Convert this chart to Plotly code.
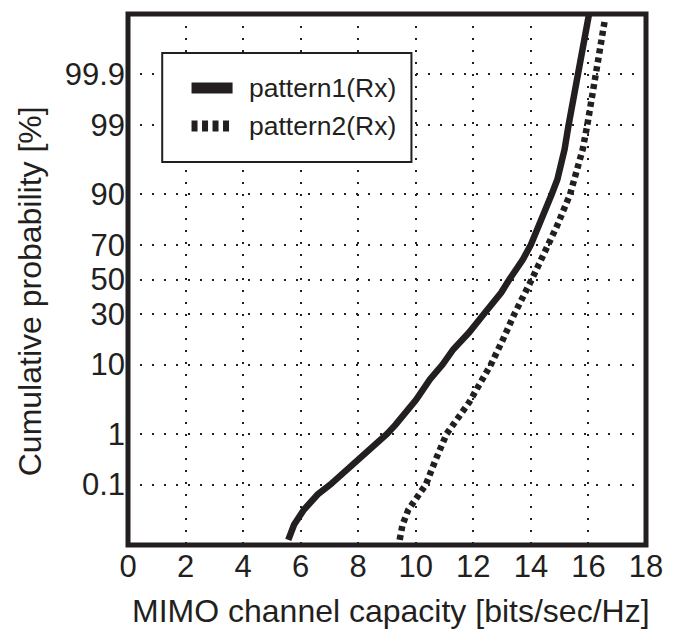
import plotly.graph_objects as go
from statistics import NormalDist

# ---- data ----
capacity_p1 = [5.57, 5.77, 6.11, 6.59, 7.03, 7.71, 8.21, 8.59, 9.00, 9.30, 10.01, 10.49,
               10.93, 11.30, 11.85, 12.36, 12.97, 13.25, 13.72, 14.00, 14.50, 14.72,
               14.92, 15.17, 15.31, 15.48, 15.65, 15.78, 16.02]
prob_p1 = [0.0044, 0.011, 0.026, 0.060, 0.1, 0.23, 0.42, 0.64, 1, 1.44, 3.5, 6.6,
           10, 14.6, 21.2, 30, 42.2, 50, 61.8, 70, 84.4, 90,
           93.4, 97.5, 99, 99.667, 99.9, 99.968, 99.9968]

capacity_p2 = [9.44, 9.54, 9.74, 10.05, 10.35, 10.69, 11.07, 11.85, 12.22, 12.61,
               13.03, 13.42, 14.03, 14.60, 14.90, 15.36, 15.64, 15.80, 15.96, 16.12,
               16.27, 16.41, 16.56]
prob_p2 = [0.0044, 0.011, 0.026, 0.054, 0.1, 0.33, 1, 3.19, 5.67, 10,
           18.3, 30, 50, 70, 78.8, 90, 95.6, 97.5, 99, 99.667,
           99.9, 99.973, 99.9949]

series_names = ["pattern1(Rx)", "pattern2(Rx)"]
prob_ticks = [0.1, 1, 10, 30, 50, 70, 90, 99, 99.9]
prob_tick_labels = ["0.1", "1", "10", "30", "50", "70", "90", "99", "99.9"]
x_ticks = [0, 2, 4, 6, 8, 10, 12, 14, 16, 18]

_nd = NormalDist()


def probit(p_percent):
    return _nd.inv_cdf(p_percent / 100.0)


INK = "#231f20"
FONT = "Liberation Sans, Arial, Helvetica, sans-serif"

fig = go.Figure()
fig.add_trace(go.Scatter(
    x=capacity_p1, y=[probit(p) for p in prob_p1], mode="lines",
    name=series_names[0], showlegend=False,
    line=dict(color=INK, width=6.5)))
fig.add_trace(go.Scatter(
    x=capacity_p2, y=[probit(p) for p in prob_p2], mode="lines",
    name=series_names[1], showlegend=False,
    line=dict(color=INK, width=6.5, dash="5px,4px")))

W, H = 675, 629
ML, MR, MT, MB = 128, 17, 14, 84
pw, ph = W - ML - MR, H - MT - MB


def px_x(px):
    return (px - ML) / pw


def px_y(py):
    return (H - MB - py) / ph


fig.update_layout(
    width=W, height=H, autosize=False,
    margin=dict(l=ML, r=MR, t=MT, b=MB, pad=0),
    paper_bgcolor="white", plot_bgcolor="white",
    font=dict(family=FONT, color=INK),
    showlegend=False,
    xaxis=dict(
        range=[0, 18], tickvals=x_ticks, ticktext=[str(v) for v in x_ticks],
        showgrid=True, gridcolor=INK, gridwidth=1.5, griddash="2px,10px",
        zeroline=False, showline=False, ticks="", ticklabeloverflow="allow",
        tickfont=dict(size=31, family=FONT, color=INK),
    ),
    yaxis=dict(
        range=[-4, 4], tickvals=[probit(p) for p in prob_ticks], ticktext=prob_tick_labels,
        showgrid=True, gridcolor=INK, gridwidth=1.5, griddash="2px,10px",
        zeroline=False, showline=False, ticks="", ticklabelstandoff=2,
        ticklabeloverflow="allow",
        tickfont=dict(size=31, family=FONT, color=INK),
    ),
)

shapes = [
    # plot frame
    dict(type="rect", xref="paper", yref="paper", x0=0, x1=1, y0=0, y1=1,
         line=dict(color=INK, width=5), layer="above"),
    # legend box
    dict(type="rect", xref="paper", yref="paper",
         x0=px_x(163), x1=px_x(418), y0=px_y(162), y1=px_y(53),
         line=dict(color=INK, width=2), fillcolor="white", layer="above"),
    dict(type="line", xref="paper", yref="paper",
         x0=px_x(193), x1=px_x(235), y0=px_y(88), y1=px_y(88),
         line=dict(color=INK, width=11), layer="above"),
    dict(type="line", xref="paper", yref="paper",
         x0=px_x(193), x1=px_x(235), y0=px_y(126), y1=px_y(126),
         line=dict(color=INK, width=11, dash="6px,4.5px"), layer="above"),
]
fig.update_layout(shapes=shapes)

annotations = [
    dict(text="MIMO channel capacity [bits/sec/Hz]", xref="paper", yref="paper",
         x=px_x(397), y=px_y(611), xanchor="center", yanchor="middle",
         showarrow=False, font=dict(size=32, family=FONT, color=INK)),
    dict(text="Cumulative probability [%]", xref="paper", yref="paper",
         x=px_x(28), y=px_y(291), xanchor="center", yanchor="middle",
         textangle=-90, showarrow=False,
         font=dict(size=32, family=FONT, color=INK)),
    dict(text=series_names[0], xref="paper", yref="paper",
         x=px_x(250), y=px_y(88), xanchor="left", yanchor="middle",
         showarrow=False, font=dict(size=26.5, family=FONT, color=INK)),
    dict(text=series_names[1], xref="paper", yref="paper",
         x=px_x(250), y=px_y(126), xanchor="left", yanchor="middle",
         showarrow=False, font=dict(size=26.5, family=FONT, color=INK)),
]
fig.update_layout(annotations=annotations)

fig.write_html("out.html")
